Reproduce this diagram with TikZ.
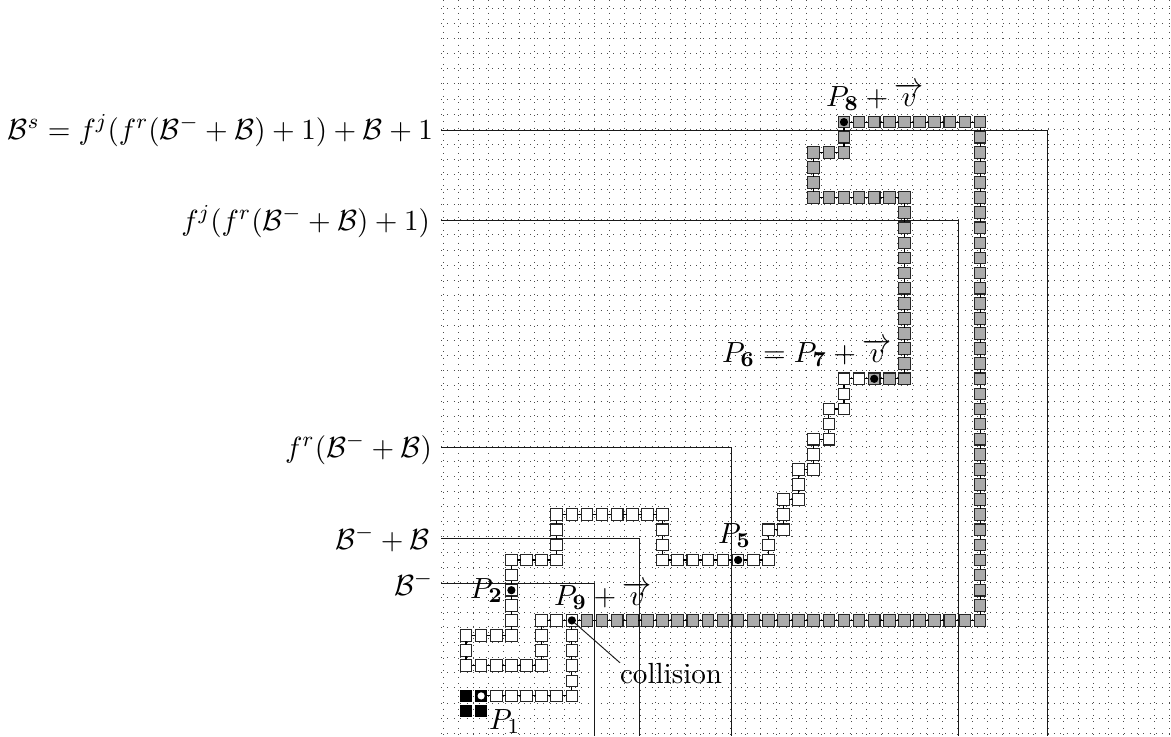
\documentclass[11pt,tikz,border=0pt]{standalone}
\usepackage{amsmath}
\tikzset{
  every node/.append style={font=\fontsize{10.95}{13}\selectfont},
  gridline/.style={dash pattern=on 0.3pt off 2.1pt,line width=0.3pt,black!70},
  cellbase/.style={draw=black!85,line width=0.4pt,rectangle,minimum size=4.35pt,inner sep=0pt,outer sep=0pt},
  whitecell/.style={cellbase,fill=white},
  graycell/.style={cellbase,fill=black!33},
  blackcell/.style={cellbase,draw=black,fill=black},
  dotmark/.style={circle,fill=black,minimum size=3.1pt,inner sep=0pt,outer sep=0pt},
  hollowmark/.style={circle,fill=white,minimum size=2.7pt,inner sep=0pt,outer sep=0pt},
  link/.style={line width=0.4pt,black},
  leader/.style={line width=0.35pt,black!90},
  lab/.style={inner sep=0pt,outer sep=0pt},
}
\begin{document}
\begin{tikzpicture}[x=0.3759pt,y=-0.3759pt]
\useasboundingbox (0,0) rectangle (1171,736);
\begin{scope}
\clip (0,0) rectangle (1171,736);
\foreach \k in {0,...,48}{
  \draw[gridline] ({443.4+15.118*\k},0) -- ({443.4+15.118*\k},736);
  \draw[gridline] (441,{8.3+15.1*\k}) -- (1171,{8.3+15.1*\k});
}
\end{scope}
% leaders
\coordinate (s1) at (441,130); \coordinate (e1) at (1047.5,736);
\coordinate (s2) at (441,220); \coordinate (e2) at (958,736);
\coordinate (s3) at (441,447); \coordinate (e3) at (731,736);
\coordinate (s4) at (441,538); \coordinate (e4) at (639.5,736);
\coordinate (s5) at (441,583); \coordinate (e5) at (594.5,736);
\draw[leader] (s1) -| (e1);
\draw[leader] (s2) -| (e2);
\draw[leader] (s3) -| (e3);
\draw[leader] (s4) -| (e4);
\draw[leader] (s5) -| (e5);
% black start block
\foreach \c/\r in {0/0,1/0,0/1,1/1}
  \node[blackcell] (cell-\c-\r) at ({466+15.118*\c},{711-15.1*\r}) {};
\node[hollowmark] (start) at (cell-1-1) {};
% white part
\foreach \c/\r [remember=\c as \pc (initially 1), remember=\r as \pr (initially 1)] in {
  2/1,3/1,4/1,5/1,6/1,7/1,
  7/2,7/3,7/4,7/5,7/6,
  6/6,5/6,
  5/5,5/4,5/3,
  4/3,3/3,2/3,1/3,0/3,
  0/4,0/5,
  1/5,2/5,3/5,
  3/6,3/7,3/8,3/9,3/10,
  4/10,5/10,6/10,
  6/11,6/12,6/13,
  7/13,8/13,9/13,10/13,11/13,12/13,13/13,
  13/12,13/11,13/10,
  14/10,15/10,16/10,17/10,18/10,19/10,20/10,
  20/11,20/12,21/12,21/13,21/14,22/14,22/15,22/16,23/16,23/17,23/18,
  24/18,24/19,24/20,25/20,25/21,25/22,26/22}{
  \node[whitecell] (cell-\c-\r) at ({466+15.118*\c},{711-15.1*\r}) {};
  \draw[link] (cell-\pc-\pr) -- (cell-\c-\r);
}
% gray part
\foreach \c/\r [remember=\c as \pc (initially 26), remember=\r as \pr (initially 22)] in {
  27/22,28/22,29/22,
  29/23,29/24,29/25,29/26,29/27,29/28,29/29,29/30,29/31,29/32,29/33,29/34,
  28/34,27/34,26/34,25/34,24/34,23/34,
  23/35,23/36,23/37,24/37,25/37,25/38,25/39,
  26/39,27/39,28/39,29/39,30/39,31/39,32/39,33/39,34/39,
  34/38,34/37,34/36,34/35,34/34,34/33,34/32,34/31,34/30,34/29,34/28,34/27,34/26,
  34/25,34/24,34/23,34/22,34/21,34/20,34/19,34/18,34/17,34/16,34/15,34/14,34/13,
  34/12,34/11,34/10,34/9,34/8,34/7,34/6,
  33/6,32/6,31/6,30/6,29/6,28/6,27/6,26/6,25/6,24/6,23/6,22/6,21/6,20/6,19/6,18/6,
  17/6,16/6,15/6,14/6,13/6,12/6,11/6,10/6,9/6,8/6}{
  \node[graycell] (cell-\c-\r) at ({466+15.118*\c},{711-15.1*\r}) {};
  \draw[link] (cell-\pc-\pr) -- (cell-\c-\r);
}
\draw[link] (cell-8-6) -- (cell-7-6);
% marked points
\node[dotmark] (dotA) at (cell-3-8) {};
\node[dotmark] (dotB) at (cell-18-10) {};
\node[dotmark] (dotC) at (cell-27-22) {};
\node[dotmark] (dotD) at (cell-25-39) {};
\node[dotmark] (dotE) at (cell-7-6) {};
% labels
\node[lab,anchor=base east] (l1) at (433,139) {$\mathcal{B}^s=f^j(f^r(\mathcal{B}^-+\mathcal{B})+1)+\mathcal{B}+1$};
\node[lab,anchor=base east] (l2) at (430,230) {$f^j(f^r(\mathcal{B}^-+\mathcal{B})+1)$};
\node[lab,anchor=base east] (l3) at (432,457) {$f^r(\mathcal{B}^-+\mathcal{B})$};
\node[lab,anchor=base east] (l4) at (430,549) {$\mathcal{B}^-+\mathcal{B}$};
\node[lab,anchor=base east] (l5) at (433,595) {$\mathcal{B}^-$};
\node[lab,anchor=base west] (p1) at (489,729) {$P_1$};
\node[lab,anchor=base west] (p2) at (470,598) {$P_{\mathbf{2}}$};
\node[lab,anchor=base west] (p5) at (718,543) {$P_{\mathbf{5}}$};
\node[lab,anchor=base west] (p9) at (554,605) {$P_{\mathbf{9}}+\overrightarrow{v}$};
\node[lab,anchor=base west] (p6) at (722,362) {$P_{\mathbf{6}}=P_{\mathbf{7}}+\overrightarrow{v}$};
\node[lab,anchor=base west] (p8) at (826,106) {$P_{\mathbf{8}}+\overrightarrow{v}$};
\node[lab,anchor=base west,inner sep=0pt] (coll) at (620,683) {collision};
\draw[leader] (dotE) -- (coll.north west);
\end{tikzpicture}
\end{document}
